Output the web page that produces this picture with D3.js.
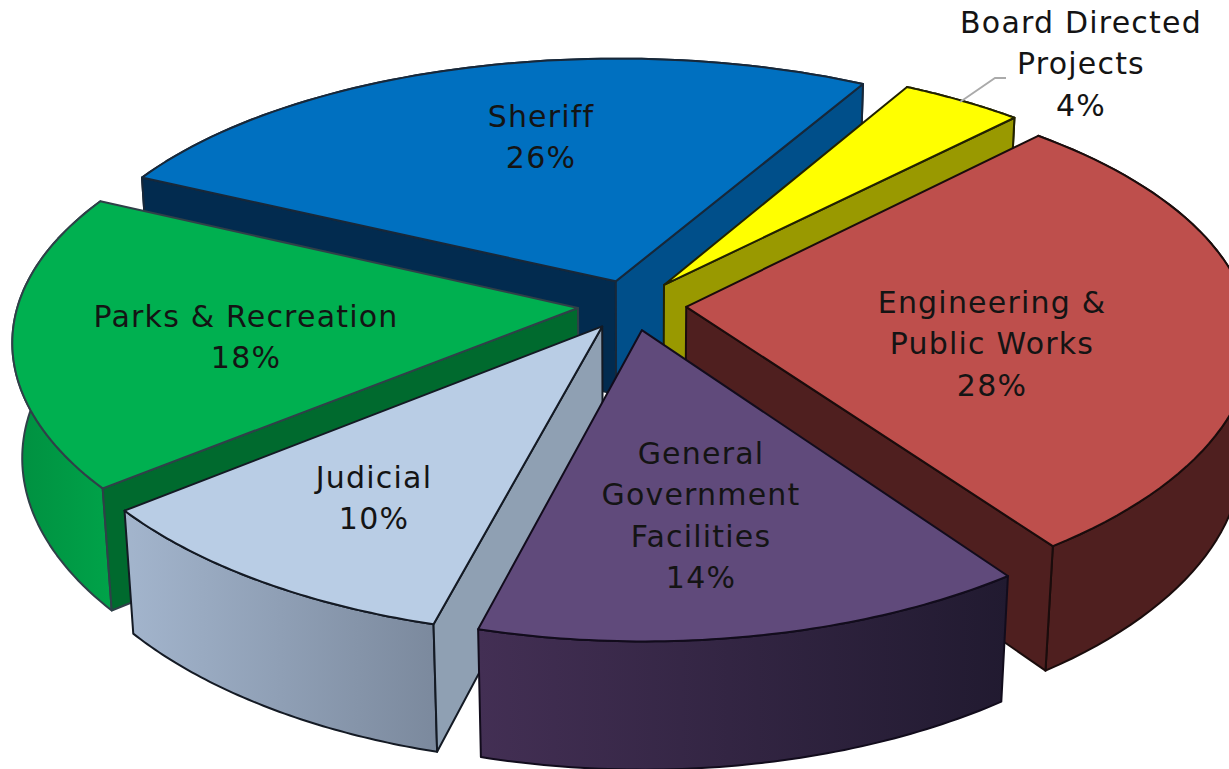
<!DOCTYPE html>
<html><head><meta charset="utf-8">
<script src="https://cdn.jsdelivr.net/npm/d3@7"></script>
<style>html,body{margin:0;padding:0;background:#fff;overflow:hidden}svg{display:block}</style>
</head><body><svg id="c" width="1229" height="769"></svg>
<script>
// Data
const categories = ["Sheriff","Board Directed Projects","Engineering & Public Works","General Government Facilities","Judicial","Parks & Recreation"];
const values = [26,4,28,14,10,18];
const labelLines = [["Sheriff"],["Board Directed","Projects"],["Engineering &","Public Works"],["General","Government","Facilities"],["Judicial"],["Parks & Recreation"]];
const percentLabels = ["26%","4%","28%","14%","10%","18%"];

// Styles
const topColors   = ["#0070C0","#FFFF00","#BE4F4C","#604A7B","#B9CDE5","#00B050"];
const outerLeft   = ["#00457a","#999900","#4F1F1F","#432F54","#A3B5CD","#008F40"];
const outerRight  = ["#00457a","#999900","#4F1F1F","#211A30","#7B899D","#00A349"];
const startWall   = ["#022B4F","#999900","#4F1F1F","#211A30","#8FA0B3","#006A2E"];
const endWall     = ["#004F8A","#999900","#4F1F1F","#211A30","#8FA0B3","#006A2E"];
const strokes     = ["#17283a","#222200","#1a0c0c","#120c1c","#141a24","#2f4048"];
// Layout
const cx=632, cy=305, A=560, B=260, H=116, PX=0.12, PY=0.14, Q=0.016, EXPLODE=0.097;
const START=-64.3*Math.PI/180;
const labelX=[541,1081,992,701,374,246], labelY=[127,33,313,464,488,327];
const lineGap=41.4, fontSize=30, tracking=1.2;

function project(u,v,z){
  return [cx+A*u/(1-PX*v+Q*z), cy+(B*v+H*z)/(1-PY*v+Q*z)];
}
const pie=d3.pie().sort(null).startAngle(START).endAngle(START+2*Math.PI);
const arcs=pie(values);
const line=d3.line();
const svg=d3.select("#c");
const defs=svg.append("defs");

function slicePts(d){
  const mid=(d.startAngle+d.endAngle)/2;
  const ox=EXPLODE*Math.sin(mid), oy=-EXPLODE*Math.cos(mid);
  const n=60;
  const ang=d3.scaleLinear().domain([0,n]).range([d.startAngle,d.endAngle]);
  const rim=d3.range(n+1).map(i=>[ox+Math.sin(ang(i)),oy-Math.cos(ang(i))]);
  return {apex:[ox,oy],rim};
}
const at=(p,z)=>project(p[0],p[1],z);
// a radial wall shows only when the slice top lies on the far side of its edge from "down"
function wallVisible(apex,end,inner){
  const a=at(apex,0), e=at(end,0), m=at(inner,0);
  const ex=e[0]-a[0], ey=e[1]-a[1];
  const crossInner=ex*(m[1]-a[1])-ey*(m[0]-a[0]);
  return crossInner*ex<0;
}

const order=[0,1,2,5,4,3];
order.forEach(i=>{
  const d=arcs[i], {apex,rim}=slicePts(d);
  const g=svg.append("g").attr("class","slice").attr("data-name",categories[i]);
  const gid="g"+i;
  const lg=defs.append("linearGradient").attr("id",gid);
  lg.append("stop").attr("offset","0%").attr("stop-color",outerLeft[i]);
  lg.append("stop").attr("offset","100%").attr("stop-color",outerRight[i]);
  const first=rim[0], last=rim[rim.length-1], inner=rim[30];
  const face=(pts,fill)=>g.append("path").attr("d",line(pts)+"Z").attr("fill",fill)
     .attr("stroke",strokes[i]).attr("stroke-width",2).attr("stroke-linejoin","round");
  face(rim.map(p=>at(p,0)).concat(rim.slice().reverse().map(p=>at(p,1))),"url(#"+gid+")");
  if(wallVisible(apex,first,inner)) face([at(apex,0),at(first,0),at(first,1),at(apex,1)],startWall[i]);
  if(wallVisible(apex,last,inner))  face([at(apex,0),at(last,0),at(last,1),at(apex,1)],endWall[i]);
  face([at(apex,0)].concat(rim.map(p=>at(p,0))),topColors[i]);
});

// leader line for the small slice
svg.append("path").attr("d",line([[960,102],[995,78],[1006,78]])).attr("fill","none")
   .attr("stroke","#aaaaaa").attr("stroke-width",1.8);

// labels
categories.forEach((c,i)=>{
  const lines=labelLines[i].concat([percentLabels[i]]);
  const t=svg.append("text").attr("text-anchor","middle")
    .attr("font-family","'DejaVu Sans',sans-serif").attr("font-size",fontSize)
    .attr("letter-spacing",tracking).attr("fill","#141414");
  lines.forEach((l,k)=>t.append("tspan").attr("x",labelX[i]).attr("y",labelY[i]+k*lineGap).text(l));
});
</script></body></html>
